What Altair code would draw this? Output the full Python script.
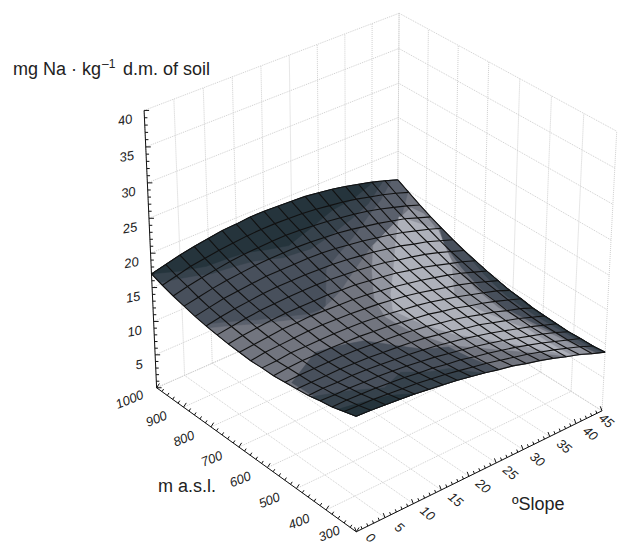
import altair as alt, numpy as np, pandas as pd
alt.data_transformers.disable_max_rows()

# mesh axes
SLOPES = [2.5 * i for i in range(19)]
ALTS = [1000 - 700 * i / 18 for i in range(19)]
# mg Na per kg: one row per altitude (1000 -> 300 m), one column per slope (0 -> 45)
Z = [
[17.0,17.5,18.0,18.4,18.7,19.0,19.1,19.3,19.3,19.2,19.1,19.0,18.7,18.4,18.0,17.5,17.0,16.4,15.7],
[16.4,16.9,17.4,17.7,18.0,18.2,18.4,18.5,18.5,18.4,18.3,18.1,17.8,17.5,17.1,16.6,16.1,15.5,14.8],
[15.9,16.4,16.8,17.1,17.4,17.6,17.7,17.8,17.8,17.7,17.5,17.3,17.0,16.7,16.3,15.8,15.2,14.6,13.9],
[15.5,15.9,16.3,16.6,16.8,17.0,17.1,17.1,17.1,17.0,16.8,16.6,16.3,15.9,15.5,15.0,14.5,13.8,13.1],
[15.1,15.5,15.9,16.1,16.3,16.5,16.5,16.5,16.5,16.4,16.2,15.9,15.6,15.2,14.8,14.3,13.7,13.1,12.4],
[14.8,15.2,15.5,15.7,15.9,16.0,16.0,16.0,15.9,15.8,15.6,15.3,15.0,14.6,14.2,13.6,13.1,12.4,11.7],
[14.6,14.9,15.2,15.4,15.5,15.6,15.6,15.6,15.5,15.3,15.1,14.8,14.5,14.0,13.6,13.1,12.5,11.8,11.1],
[14.4,14.7,14.9,15.1,15.2,15.2,15.2,15.2,15.0,14.9,14.6,14.3,14.0,13.5,13.1,12.5,11.9,11.3,10.6],
[14.3,14.5,14.7,14.9,14.9,15.0,14.9,14.8,14.7,14.5,14.2,13.9,13.5,13.1,12.6,12.1,11.5,10.8,10.1],
[14.2,14.5,14.6,14.7,14.8,14.8,14.7,14.6,14.4,14.2,13.9,13.6,13.2,12.7,12.2,11.7,11.1,10.4,9.7],
[14.3,14.4,14.6,14.6,14.6,14.6,14.5,14.4,14.2,13.9,13.6,13.3,12.9,12.4,11.9,11.3,10.7,10.1,9.3],
[14.3,14.5,14.6,14.6,14.6,14.5,14.4,14.2,14.0,13.7,13.4,13.1,12.6,12.2,11.6,11.1,10.5,9.8,9.1],
[14.5,14.6,14.6,14.6,14.6,14.5,14.3,14.1,13.9,13.6,13.3,12.9,12.5,12.0,11.4,10.9,10.2,9.6,8.8],
[14.7,14.7,14.7,14.7,14.6,14.5,14.3,14.1,13.9,13.6,13.2,12.8,12.3,11.9,11.3,10.7,10.1,9.4,8.7],
[14.9,15.0,14.9,14.9,14.8,14.6,14.4,14.2,13.9,13.6,13.2,12.8,12.3,11.8,11.2,10.6,10.0,9.3,8.6],
[15.3,15.2,15.2,15.1,15.0,14.8,14.6,14.3,14.0,13.6,13.2,12.8,12.3,11.8,11.2,10.6,10.0,9.3,8.5],
[15.6,15.6,15.5,15.4,15.2,15.0,14.7,14.5,14.1,13.8,13.3,12.9,12.4,11.9,11.3,10.7,10.0,9.3,8.6],
[16.1,16.0,15.9,15.7,15.5,15.3,15.0,14.7,14.3,13.9,13.5,13.0,12.5,12.0,11.4,10.8,10.1,9.4,8.6],
[16.6,16.5,16.3,16.1,15.9,15.6,15.3,15.0,14.6,14.2,13.7,13.3,12.7,12.2,11.6,10.9,10.3,9.5,8.8],
]
ZT = [5,10,15,20,25,30,35,40]
AT = [300,400,500,600,700,800,900,1000]
ST = [0,5,10,15,20,25,30,35,40,45]
SHADES = ['#25343c','#36424c','#48505c','#5a606c','#72757f','#92959f','#aeb1ba']
# shade regions on the surface, vertices as (slope step, altitude step) in 24ths of each side
BANDS = [
(2,[(0,0),(24,0),(24,24),(0,24)]),
(1,[(0,0),(24,0),(22.5,0),(19.3,2),(16.9,3),(14,4),(11.5,4.6),(9,4.4),(6.9,3.6),(3.5,2.8),(0,1)]),
(0,[(0,0),(21.5,0),(18.3,1.3),(15.9,1.8),(13,2.8),(10.2,3.6),(8.6,3.2),(6.9,2.6),(3.6,2),(1.7,1.1)]),
(3,[(0,24),(0,6.5),(3.2,8.7),(6.6,10.4),(8.2,10.5),(11.2,6.9),(15.5,4.8),(20.8,1.8),(23.4,0),(24,0),(24,24)]),
(4,[(0,7),(3.2,9.25),(6.6,10.9),(9.2,10),(10.7,9.3),(16.4,6),(18.6,5),(21.3,3.7),(24,1.3),(24,24),(0,24)]),
(2,[(0.3,16.4),(4.06,14.4),(5.8,14.75),(7.9,15.3),(9.6,17.25),(10.8,18.6),(12.7,19.2),(12.9,21.2),(13.4,24),(0,24)]),
(1,[(0,19),(2.2,20.2),(4.5,21.7),(7,20.5),(8.8,21.7),(10.3,22),(11.8,24),(0,24)]),
(0,[(0,22),(2,22.5),(4,23),(5.5,24),(0,24)]),
(5,[(16.5,6),(22.9,2.9),(23.6,3.6),(23.5,5),(22.3,7),(21.6,10),(21,12.8),(20.9,15.5),(21.5,17.9),(22.2,20.7),(22.7,24),(20.2,24),(16.4,21.5),(13,19),(11.8,16),(11.4,13.5),(12.2,11.3),(14.3,8.5)]),
(6,[(18.2,6.6),(21,3.7),(23.5,5.5),(21.8,9),(18.4,13.3),(19.2,15.8),(20.75,19),(20.6,24),(17.6,20.7),(14.5,17.8),(13.3,15.6),(12.5,13.1),(13.8,11.3),(16,9)]),
(2,[(24,5),(22.8,7),(22,10),(21.5,12.8),(21.4,15.5),(22,17.9),(22.7,20.7),(23.2,24),(24,24)]),
(1,[(24,8),(23.4,11),(23,14),(23.2,17),(23.5,20),(23.7,24),(24,24)]),
(0,[(24,12),(23.8,16),(23.9,20),(24,24)]),
]

# perspective camera of the box, calibrated on its visible corners
CAL = [((0,0,0),(157,387)),((0,0,1),(145,110)),((0,1,0),(355,533)),((1,1,0),(603,408)),
       ((1,1,1),(617,133)),((1,0,0),(397,284)),((1,0,1),(398,12))]
A, b = [], []
for (X_, Y_, Z_), (x, y) in CAL:
    A.append([X_,Y_,Z_,1,0,0,0,0,-x*X_,-x*Y_,-x*Z_]); b.append(x)
    A.append([0,0,0,0,X_,Y_,Z_,1,-y*X_,-y*Y_,-y*Z_]); b.append(y)
P = np.linalg.lstsq(np.array(A, float), np.array(b, float), rcond=None)[0]
def proj(s, a, z):
    X_, Y_, Z_ = s/45, (1000-a)/700, z/40
    w = P[8]*X_ + P[9]*Y_ + P[10]*Z_ + 1
    return (P[0]*X_+P[1]*Y_+P[2]*Z_+P[3])/w, (P[4]*X_+P[5]*Y_+P[6]*Z_+P[7])/w

ZA = np.array(Z)
def surf(k24, m24):
    fk, fm = k24*18/24, m24*18/24
    i, j = min(int(fk), 17), min(int(fm), 17)
    tk, tm = fk-i, fm-j
    z = (ZA[j,i]*(1-tk)*(1-tm) + ZA[j,i+1]*tk*(1-tm) + ZA[j+1,i]*(1-tk)*tm + ZA[j+1,i+1]*tk*tm)
    return proj(45*k24/24, 1000-700*m24/24, z)

rows = []
for j, a in enumerate(ALTS):
    for i, s in enumerate(SLOPES):
        x, y = proj(s, a, Z[j][i])
        rows.append(dict(x=x, y=y, d=f"u{i}", o=j))
        rows.append(dict(x=x, y=y, d=f"v{j}", o=i))

def edge_dense(poly):
    out = []
    for (a, b_), (c, d) in zip(poly, poly[1:]+poly[:1]):
        s = max(1, int(max(abs(c-a), abs(d-b_))))
        for t in range(s):
            out.append((a+(c-a)*t/s, b_+(d-b_)*t/s))
    return out
feats = []
for i, (ci, poly) in enumerate(BANDS):
    pts = [list(surf(k, m)) for k, m in edge_dense(poly)]
    pts = pts + [pts[0]]
    feats.append({"type":"Feature","properties":{"c":SHADES[ci],"i":i},"geometry":{"type":"Polygon","coordinates":[pts]}})

gr = []
def seg(name, a, b):
    pa, pb = proj(*a), proj(*b)
    gr.append(dict(x=pa[0], y=pa[1], d=name, o=0)); gr.append(dict(x=pb[0], y=pb[1], d=name, o=1))
for s in ST:
    seg(f"f{s}", (s,1000,0), (s,300,0)); seg(f"w{s}", (s,1000,0), (s,1000,40))
for a in AT:
    seg(f"g{a}", (0,a,0), (45,a,0)); seg(f"h{a}", (45,a,0), (45,a,40))
for z in [0]+ZT:
    seg(f"a{z}", (0,1000,z), (45,1000,z)); seg(f"b{z}", (45,1000,z), (45,300,z))

ax = []
def aseg(name, p, q):
    ax.append(dict(x=p[0], y=p[1], d=name, o=0)); ax.append(dict(x=q[0], y=q[1], d=name, o=1))
aseg("zax", proj(0,1000,0), proj(0,1000,40)); aseg("aax", proj(0,1000,0), proj(0,300,0)); aseg("sax", proj(0,300,0), proj(45,300,0))
for z in range(0, 41):
    p = proj(0,1000,z); L = 5 if z % 5 == 0 else 3
    aseg(f"tz{z}", p, (p[0]+L, p[1]))
for a in range(300, 1001, 20):
    p = proj(0,a,0); L = 5 if a % 100 == 0 else 3
    aseg(f"ta{a}", p, (p[0]+L*.55, p[1]-L*.85))
for s in range(0, 46):
    p = proj(s,300,0); L = 5 if s % 5 == 0 else 3
    aseg(f"ts{s}", p, (p[0]-L*.35, p[1]-L*.9))

lz = [dict(x=proj(0,1000,z)[0]-(19 if z > 5 else 16), y=proj(0,1000,z)[1]+10, t=str(z)) for z in ZT]
la = [dict(x=proj(0,a,0)[0]-27, y=min(proj(0,a,0)[1]+12, 534), t=str(a)) for a in AT]
ls = [dict(x=min(proj(s,300,0)[0]+14, 606), y=min(proj(s,300,0)[1]+10, 538), t=str(s)) for s in ST]

X = alt.X('x:Q', scale=alt.Scale(domain=[8,618], range=[0,610]), axis=None)
Y = alt.Y('y:Q', scale=alt.Scale(domain=[8,547], range=[0,539]), axis=None)
grid = alt.Chart(pd.DataFrame(gr)).mark_line(color='#cfcfcf', strokeDash=[1,1], strokeWidth=1).encode(x=X, y=Y, detail='d:N', order='o:Q')
geo = alt.Chart(alt.InlineData(values={"type":"FeatureCollection","features":feats}, format=alt.DataFormat(property='features', type='json'))).mark_geoshape(strokeWidth=.5).encode(
    fill=alt.Fill('properties.c:N', scale=None), stroke=alt.Stroke('properties.c:N', scale=None), order='properties.i:Q'
).project(type='identity', scale=1, translate=[-8,-8])
mesh = alt.Chart(pd.DataFrame(rows)).mark_line(color='#111', strokeWidth=1.1).encode(x=X, y=Y, detail='d:N', order='o:Q')
axes = alt.Chart(pd.DataFrame(ax)).mark_line(color='#111', strokeWidth=1).encode(x=X, y=Y, detail='d:N', order='o:Q')
def txt(df, ang):
    return alt.Chart(pd.DataFrame(df)).mark_text(font='Liberation Sans', fontSize=13, fontStyle='italic', color='#222', angle=ang).encode(x=X, y=Y, text='t:N')
def ttl(t, x, y, size=18):
    return alt.Chart(pd.DataFrame({'t':[t]})).mark_text(font='Liberation Sans', fontSize=size, color='#222', align='left', baseline='alphabetic').encode(x=alt.value(x-8), y=alt.value(y-8), text='t:N')
chart = alt.layer(grid, geo, mesh, axes, txt(lz,350), txt(la,338), txt(ls,40),
    ttl('mg Na · kg',13,75), ttl('–1',102,68,12), ttl('d.m. of soil',123,75), ttl('m a.s.l.',158,492), ttl('ºSlope',512,510)
).properties(width=610, height=539, padding=0, autosize='none').configure_view(stroke=None)
chart.save("out.html", embed_options={"renderer": "svg", "actions": False})
